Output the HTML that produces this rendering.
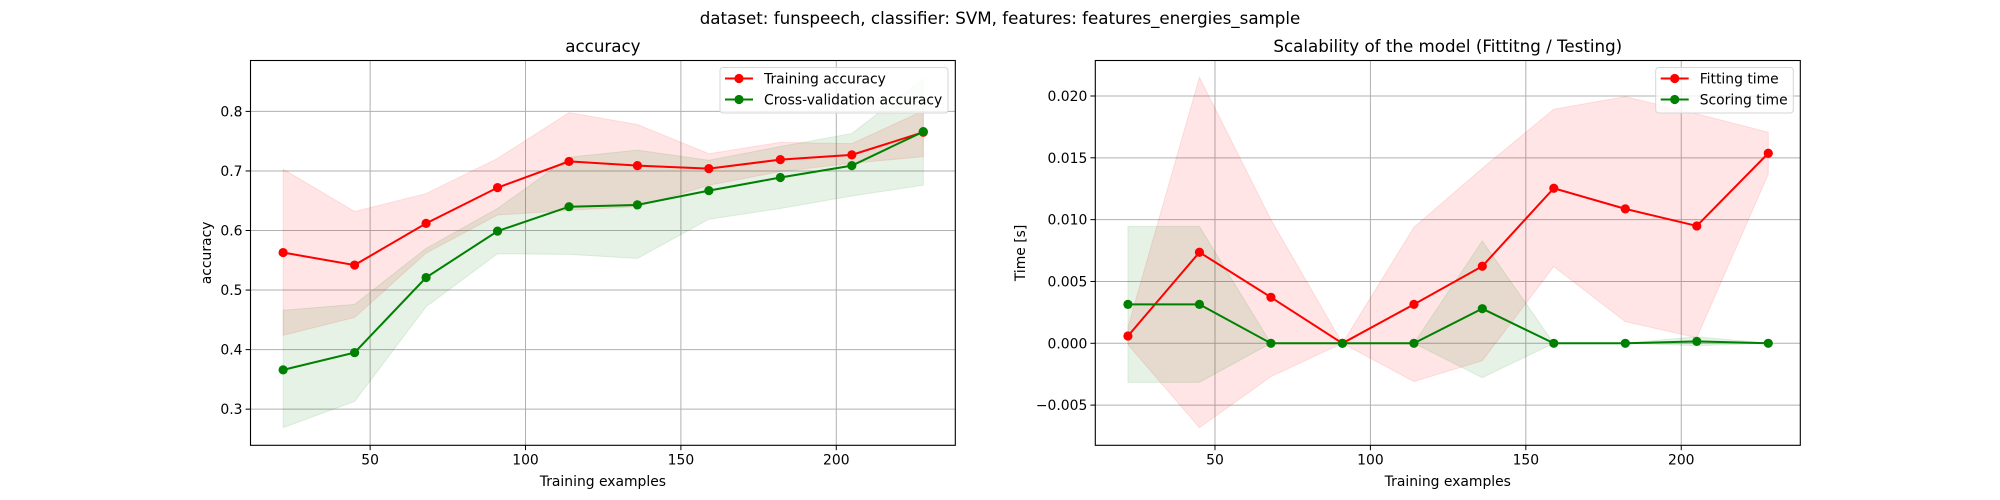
<!DOCTYPE html>
<html><head><meta charset="utf-8"><style>
html,body{margin:0;padding:0;background:#fff;}
svg{display:block;font-family:"DejaVu Sans","Liberation Sans",sans-serif;}
</style></head><body>
<svg id="fig" width="2000" height="500" viewBox="0 0 2000 500" xmlns="http://www.w3.org/2000/svg">
<text x="1000" y="24" text-anchor="middle" font-size="16.7">dataset: funspeech, classifier: SVM, features: features_energies_sample</text>
</svg>
<script>
const sizes = [22, 45, 68, 91, 114, 136, 159, 182, 205, 228];
const trainAcc = [0.563, 0.542, 0.612, 0.672, 0.716, 0.709, 0.704, 0.719, 0.727, 0.765];
const trainAccHi = [0.703, 0.632, 0.662, 0.721, 0.798, 0.778, 0.729, 0.748, 0.746, 0.801];
const trainAccLo = [0.424, 0.454, 0.562, 0.626, 0.634, 0.640, 0.676, 0.699, 0.713, 0.724];
const cvAcc = [0.366, 0.395, 0.521, 0.599, 0.640, 0.643, 0.667, 0.689, 0.709, 0.766];
const cvAccHi = [0.466, 0.476, 0.570, 0.637, 0.723, 0.735, 0.718, 0.741, 0.763, 0.855];
const cvAccLo = [0.269, 0.313, 0.472, 0.561, 0.560, 0.553, 0.619, 0.637, 0.658, 0.676];
const fitTime = [0.00059, 0.00736, 0.00372, 0.0, 0.00315, 0.00623, 0.01254, 0.01087, 0.00949, 0.01537];
const fitTimeHi = [0.0013, 0.02152, 0.0100, 0.0, 0.00938, 0.01416, 0.01893, 0.01995, 0.01855, 0.01707];
const fitTimeLo = [-0.0001, -0.00683, -0.0027, 0.0, -0.0031, -0.00141, 0.0062, 0.00175, 0.00045, 0.01367];
const scoreTime = [0.00315, 0.00315, 0.0, 0.0, 0.0, 0.0028, 0.0, 0.0, 0.00015, 0.0];
const scoreTimeHi = [0.00944, 0.00944, 0.0, 0.0, 0.0, 0.00828, 0.0, 0.0, 0.00053, 0.0];
const scoreTimeLo = [-0.00316, -0.00316, 0.0, 0.0, 0.0, -0.00278, 0.0, 0.0, -0.0002, 0.0];
const xTicks = [50, 100, 150, 200];
const accTicks = [0.3, 0.4, 0.5, 0.6, 0.7, 0.8];
const accTickLabels = ["0.3", "0.4", "0.5", "0.6", "0.7", "0.8"];
const timeTicks = [-0.005, 0, 0.005, 0.01, 0.015, 0.02];
const timeTickLabels = ["\u22120.005", "0.000", "0.005", "0.010", "0.015", "0.020"];

const NS = "http://www.w3.org/2000/svg";
const svg = document.getElementById('fig');
function mk(tag, attrs, parent){const e=document.createElementNS(NS,tag);for(const k in attrs)e.setAttribute(k,attrs[k]);(parent||svg).appendChild(e);return e;}

function axes(cfg){
  const g = mk('g',{});
  
  
  const L=cfg.left,R=cfg.right,T=60.5,B=445.3;
  const sx=v=>L+(v-11.5)/(238.3-11.5)*(R-L);
  const sy=v=>B-(v-cfg.ymin)/(cfg.ymax-cfg.ymin)*(B-T);
  // grid
  xTicks.forEach(t=>{
    const l=mk('line',{x1:sx(t),x2:sx(t),y1:T,y2:B,stroke:'#b0b0b0','stroke-width':1},g);
    
    
  });
  cfg.yTicks.forEach(t=>{
    const l=mk('line',{x1:L,x2:R,y1:sy(t),y2:sy(t),stroke:'#b0b0b0','stroke-width':1},g);
    
    
  });
  // bands
  cfg.series.forEach(s=>{
    let d='M'+sizes.map((x,i)=>sx(x)+','+sy(s.hi[i])).join('L');
    d+='L'+sizes.map((x,i)=>sx(x)+','+sy(s.lo[i])).reverse().join('L')+'Z';
    const p=mk('path',{d:d,fill:s.color,'fill-opacity':0.1,stroke:s.color,'stroke-opacity':0.1},g);
    
    
  });
  cfg.series.forEach(s=>{
    const pl=mk('polyline',{points:sizes.map((x,i)=>sx(x)+','+sy(s.v[i])).join(' '),fill:'none',stroke:s.color,'stroke-width':2},g);
    
    
    sizes.forEach((x,i)=>{
      const c=mk('circle',{cx:sx(x),cy:sy(s.v[i]),r:4.6,fill:s.color},g);
      
      
    });
  });
  // frame
  const fr=mk('rect',{x:L,y:T,width:R-L,height:B-T,fill:'none',stroke:'#000','stroke-width':1.1},g);
  
  
  xTicks.forEach(t=>{
    mk('line',{x1:sx(t),x2:sx(t),y1:B,y2:B+4.9,stroke:'#000','stroke-width':1},g);
    const tx=mk('text',{x:sx(t),y:B+19,'text-anchor':'middle','font-size':13.9},g);
    tx.textContent=t;
    
    
  });
  cfg.yTicks.forEach((t,i)=>{
    mk('line',{x1:L-4.9,x2:L,y1:sy(t),y2:sy(t),stroke:'#000','stroke-width':1},g);
    const tx=mk('text',{x:L-8,y:sy(t)+5,'text-anchor':'end','font-size':13.9},g);
    tx.textContent=cfg.yLabels[i];
    
    
  });
  const xl=mk('text',{x:(L+R)/2,y:486,'text-anchor':'middle','font-size':13.9},g);
  xl.textContent='Training examples';
  
  
  const yl=mk('text',{x:cfg.ylx,y:(T+B)/2,'text-anchor':'middle','font-size':13.9,transform:'rotate(-90 '+cfg.ylx+' '+(T+B)/2+')'},g);
  yl.textContent=cfg.ylabel;
  
  
  const ti=mk('text',{x:(L+R)/2,y:52,'text-anchor':'middle','font-size':16.7},g);
  ti.textContent=cfg.title;
  
  
  // legend
  const lg=mk('g',{},g);
  
  
  mk('rect',{x:cfg.legX,y:67.5,width:cfg.legW,height:45.5,rx:3,fill:'#fff','fill-opacity':0.8,stroke:'#d6d6d6'},lg);
  cfg.series.forEach((s,i)=>{
    const y=67.5+11+i*21;
    mk('line',{x1:cfg.legX+5,x2:cfg.legX+33,y1:y,y2:y,stroke:s.color,'stroke-width':2},lg);
    mk('circle',{cx:cfg.legX+19,cy:y,r:4.6,fill:s.color},lg);
    const t=mk('text',{x:cfg.legX+44,y:y+5,'font-size':13.9},lg);
    t.textContent=s.label;
    
    
  });
}
axes({name:'accuracy-chart',left:250.5,right:955.3,ymin:0.2393,ymax:0.8855,yTicks:accTicks,yLabels:accTickLabels,
  ylabel:'accuracy',ylx:211,title:'accuracy',legX:720,legW:228,
  series:[{key:'training-accuracy',label:'Training accuracy',color:'#ff0000',v:trainAcc,hi:trainAccHi,lo:trainAccLo},
          {key:'cv-accuracy',label:'Cross-validation accuracy',color:'#008000',v:cvAcc,hi:cvAccHi,lo:cvAccLo}]});
axes({name:'scalability-chart',left:1095.3,right:1800.3,ymin:-0.00825,ymax:0.02287,yTicks:timeTicks,yLabels:timeTickLabels,
  ylabel:'Time [s]',ylx:1025,title:'Scalability of the model (Fittitng / Testing)',legX:1655.7,legW:137.6,
  series:[{key:'fitting-time',label:'Fitting time',color:'#ff0000',v:fitTime,hi:fitTimeHi,lo:fitTimeLo},
          {key:'scoring-time',label:'Scoring time',color:'#008000',v:scoreTime,hi:scoreTimeHi,lo:scoreTimeLo}]});
</script>
</body></html>
